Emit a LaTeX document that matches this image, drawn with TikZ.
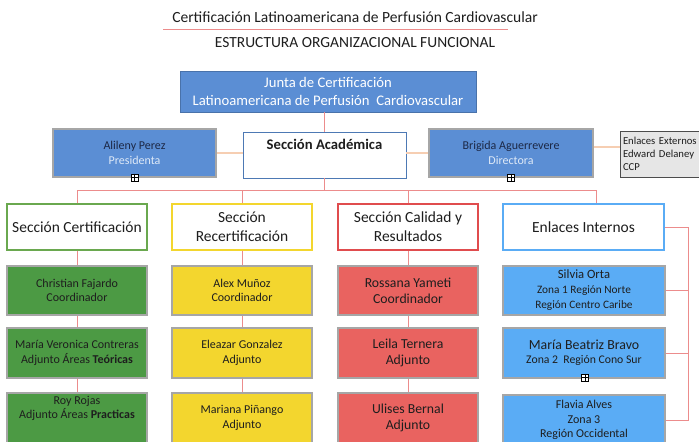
\documentclass[tikz,border=0pt]{standalone}
\usepackage{fontspec}
\setmainfont{Carlito}
\definecolor{juntablue}{RGB}{91,142,212}
\definecolor{boxgray}{RGB}{166,166,166}
\definecolor{namenavy}{RGB}{28,40,70}
\definecolor{rolelight}{RGB}{222,233,247}
\definecolor{certgreen}{RGB}{76,154,68}
\definecolor{certedge}{RGB}{106,168,79}
\definecolor{recyellow}{RGB}{243,214,46}
\definecolor{calred}{RGB}{233,99,96}
\definecolor{caledge}{RGB}{224,76,78}
\definecolor{intblue}{RGB}{90,172,245}
\definecolor{linkred}{RGB}{236,140,140}
\definecolor{peach}{RGB}{246,206,178}
\definecolor{extgray}{RGB}{230,230,230}
\definecolor{inktext}{RGB}{30,30,30}

\begin{document}
\begin{tikzpicture}[x=0.75pt,y=0.75pt,yscale=-1,xscale=1,
  headbox/.style={fill=juntablue,draw=juntablue!80!black,line width=0.4pt,inner sep=0pt,align=center,minimum width=222pt,minimum height=30.75pt,text=white,font=\fontsize{11}{13.5}\selectfont},
  persbox/.style={fill=juntablue,draw=boxgray,line width=1.6pt,inner sep=0pt,align=center,minimum width=122.5pt,minimum height=36pt,font=\fontsize{9}{11.25}\selectfont},
  secbox/.style={fill=white,line width=0.9pt,inner sep=0pt,align=center,minimum width=105pt,minimum height=34.5pt,text=inktext,font=\fontsize{11.6}{14}\selectfont},
  membox/.style={draw=boxgray,line width=1.4pt,inner sep=0pt,align=center,minimum width=105pt,minimum height=37pt,text=inktext,font=\fontsize{9}{10.8}\selectfont},
  plusbox/.style={draw=black,fill=white,line width=0.4pt,inner sep=0pt,minimum size=5.5pt},
  redline/.style={draw=linkred,line width=0.6pt},
  peachline/.style={draw=peach,line width=0.8pt}
]
\useasboundingbox (0,0) rectangle (699,442);

% Text Node
\node[font=\fontsize{11.65}{13}\selectfont,text=inktext] (title) at (355,17) {Certificación Latinoamericana de Perfusión Cardiovascular};
%Straight Lines
\draw[draw=linkred,line width=0.6pt] (163,29.5) -- (508,29.5);
% Text Node
\node[font=\fontsize{11.6}{13}\selectfont,text=inktext] (subtitle) at (355,43) {ESTRUCTURA ORGANIZACIONAL FUNCIONAL};

% Junta and directive row
\node[headbox] (junta) at (328,91.5) {Junta de Certificación\\Latinoamericana de Perfusión~ Cardiovascular};
\node[persbox] (alileny) at (134.5,153) {\textcolor{namenavy}{Alileny Perez}\\\textcolor{rolelight}{Presidenta}};
\node[secbox,draw=juntablue!85!black,line width=0.6pt,minimum width=122.25pt,font=\fontsize{11}{13}\selectfont] (acad) at (324.5,155) {\textbf{Sección Académica}\\[3pt]~};
\node[persbox] (brigida) at (511,153) {\textcolor{namenavy}{Brigida Aguerrevere}\\\textcolor{rolelight}{Directora}};
\node[fill=extgray,draw=black!70,line width=0.5pt,anchor=west,inner sep=2pt,minimum height=34.5pt,text width=85pt,align=left,text=inktext,font=\fontsize{8}{10}\selectfont] (externos) at (620,154) {Enlaces Externos\\Edward Delaney\\CCP};

\node[plusbox] (plusA) at (134.5,177.5) {};
\node[plusbox] (plusB) at (511,177.5) {};

% Sections
\node[secbox,draw=certedge] (cert) at (77,227) {Sección Certificación};
\node[secbox,draw=recyellow] (recert) at (242,227) {Sección\\Recertificación};
\node[secbox,draw=caledge] (calidad) at (408,227) {Sección Calidad y\\Resultados};
\node[secbox,draw=intblue,minimum width=120.75pt] (internos) at (583.5,227) {Enlaces Internos};

% Certificacion column
\node[membox,fill=certgreen] (fajardo) at (77,290.5) {Christian Fajardo\\Coordinador};
\node[membox,fill=certgreen] (contreras) at (77,353) {María Veronica Contreras\\Adjunto Áreas \textbf{Teóricas}};
\node[membox,fill=certgreen] (rojas) at (77,418) {Roy Rojas\\Adjunto Áreas \textbf{Practicas}\\[5pt]~};

% Recertificacion column
\node[membox,fill=recyellow] (munoz) at (242,290.5) {Alex Muñoz\\Coordinador};
\node[membox,fill=recyellow] (gonzalez) at (242,353) {Eleazar Gonzalez\\Adjunto};
\node[membox,fill=recyellow] (pinango) at (242,418) {Mariana Piñango\\Adjunto};

% Calidad column
\node[membox,fill=calred,font=\fontsize{10.3}{12}\selectfont] (yameti) at (408,290.5) {Rossana Yameti\\Coordinador};
\node[membox,fill=calred,font=\fontsize{10.3}{12}\selectfont] (ternera) at (408,353) {Leila Ternera\\Adjunto};
\node[membox,fill=calred,font=\fontsize{10.3}{12}\selectfont] (bernal) at (408,418) {Ulises Bernal\\Adjunto};

% Enlaces internos column
\node[membox,fill=intblue,minimum width=121pt,font=\fontsize{8.5}{11.25}\selectfont] (orta) at (584,290.5) {{\fontsize{9.5}{11.25}\selectfont Silvia Orta}\\Zona 1 Región Norte\\Región Centro Caribe};
\node[membox,fill=intblue,minimum width=121pt] (bravo) at (584,353) {{\fontsize{10.4}{12.5}\selectfont María Beatriz Bravo}\\{\fontsize{8.8}{10.5}\selectfont Zona 2~ Región Cono Sur}};
\node[membox,fill=intblue,minimum width=121pt,font=\fontsize{9}{10.9}\selectfont] (alves) at (584,420) {Flavia Alves\\Zona 3\\Región Occidental};
\node[plusbox] (plusC) at (585,377.5) {};

% Connectors
\coordinate (bus) at (324.5,190);
\coordinate (drop) at (596,190);
\coordinate (rail) at (688,227);

\draw[redline] (acad.north |- junta.south) -- (acad.north);
\draw[redline] (acad.south) -- (bus);
\draw[redline] (cert.north) |- (drop) -- (drop |- internos.north);
\draw[redline] (recert.north) -- (recert.north |- bus);
\draw[redline] (calidad.north) -- (calidad.north |- bus);

\draw[peachline] (alileny.east) -- (acad.west |- alileny.east);
\draw[peachline] (acad.east |- brigida.west) -- (brigida.west);
\draw[peachline] ([yshift=-4.5pt]brigida.east) -- ([yshift=-4.5pt]brigida.east -| externos.west);

\draw[redline] (cert.south) -- (fajardo.north);
\draw[redline] (fajardo.south) -- (contreras.north);
\draw[redline] (contreras.south) -- (rojas.north);
\draw[redline] (recert.south) -- (munoz.north);
\draw[redline] (munoz.south) -- (gonzalez.north);
\draw[redline] (gonzalez.south) -- (pinango.north);
\draw[redline] (calidad.south) -- (yameti.north);
\draw[redline] (yameti.south) -- (ternera.north);
\draw[redline] (ternera.south) -- (bernal.north);

\draw[redline] (internos.east) -- (rail) -- (rail |- alves.east) -- (alves.east);
\draw[redline] (orta.east) -- (orta.east -| rail);
\draw[redline] (bravo.east) -- (bravo.east -| rail);

% plus signs
\foreach \p in {plusA,plusB,plusC}
  \draw[line width=0.4pt] (\p.north) -- (\p.south) (\p.west) -- (\p.east);

\end{tikzpicture}
\end{document}
